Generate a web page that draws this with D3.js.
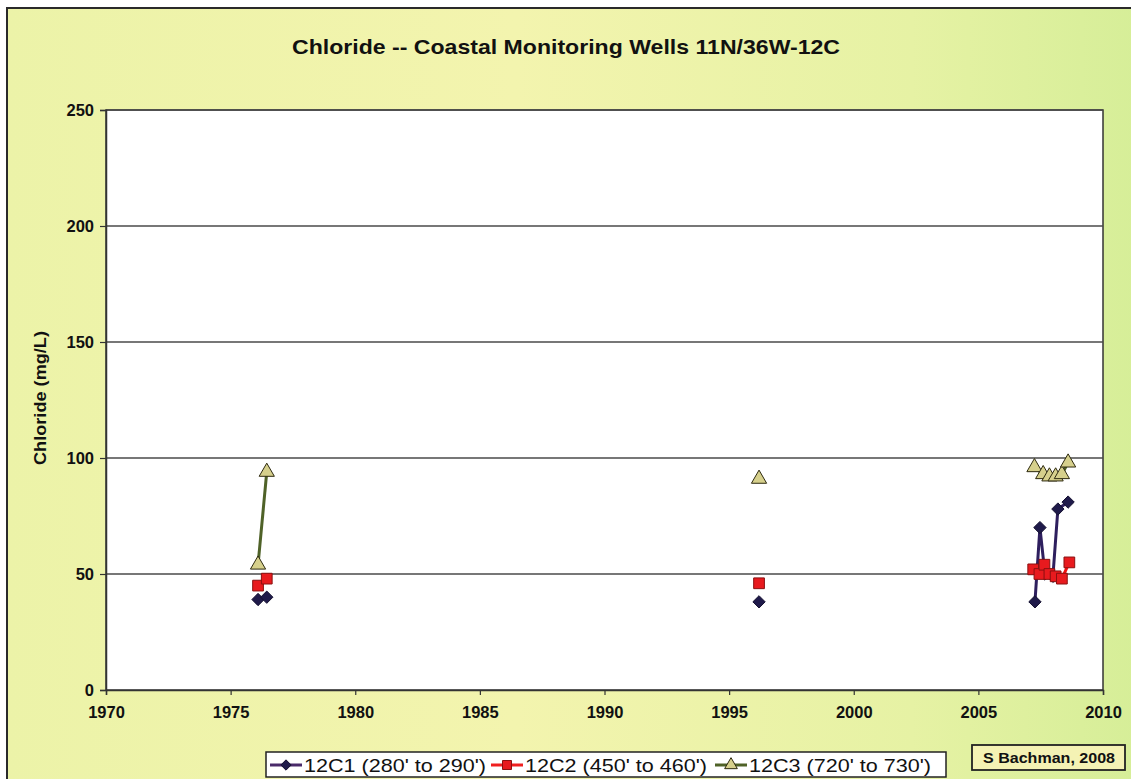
<!DOCTYPE html>
<html>
<head>
<meta charset="utf-8">
<script src="https://cdn.jsdelivr.net/npm/d3@7"></script>
<style>
  html, body { margin: 0; padding: 0; background: #fff; }
  svg { display: block; font-family: "Liberation Sans", Arial, sans-serif; }
</style>
</head>
<body>
<svg id="chart" width="1131" height="779"></svg>
<script>
// ---- data ----
const chartTitle = "Chloride -- Coastal Monitoring Wells 11N/36W-12C";
const yAxisTitle = "Chloride (mg/L)";
const credit = "S Bachman, 2008";
const seriesNames = ["12C1 (280' to 290')", "12C2 (450' to 460')", "12C3 (720' to 730')"];
const xTicks = [1970, 1975, 1980, 1985, 1990, 1995, 2000, 2005, 2010];
const yTicks = [0, 50, 100, 150, 200, 250];

const c1Years = [1976.1, 1976.45, 1996.2, 2007.27, 2007.47, 2007.67, 2007.99, 2008.19, 2008.6];
const c1Vals  = [39, 40, 38, 38, 70, 50, 49, 78, 81];
const c2Years = [1976.1, 1976.45, 1996.2, 2007.2, 2007.45, 2007.65, 2007.85, 2008.1, 2008.35, 2008.65];
const c2Vals  = [45, 48, 46, 52, 50, 54, 50, 49, 48, 55];
const c3Years = [1976.1, 1976.45, 1996.2, 2007.25, 2007.6, 2007.85, 2008.1, 2008.35, 2008.6];
const c3Vals  = [54, 94, 91, 96, 93, 92, 92, 93, 98];

// ---- layout / styles ----
const svg = d3.select("#chart");
const W = 1131, H = 779;
const plot = { left: 106, top: 110, right: 1103, bottom: 690 };

const diamond = { draw(ctx, size) { const r = Math.sqrt(size / 2); ctx.moveTo(0, -r); ctx.lineTo(r, 0); ctx.lineTo(0, r); ctx.lineTo(-r, 0); ctx.closePath(); } };

const styles = [
  { line: "#2E1F5E", fill: "#1F1A4A", stroke: "#141030", sym: diamond, size: 76, legendLine: "#4A2A6A" },
  { line: "#F01010", fill: "#E81A1E", stroke: "#8A1010", sym: d3.symbolSquare, size: 115, legendLine: "#F02020" },
  { line: "#4F6228", fill: "#D6D08C", stroke: "#2E2A10", sym: d3.symbolTriangle, size: 100, legendLine: "#4F6228" }
];

// background
const defs = svg.append("defs");
const grad = defs.append("linearGradient").attr("id", "bg").attr("x1", "0").attr("x2", "1").attr("y1", "0").attr("y2", "0");
grad.append("stop").attr("offset", "0").attr("stop-color", "#ECF3A8");
grad.append("stop").attr("offset", "0.45").attr("stop-color", "#F3F4AE");
grad.append("stop").attr("offset", "0.8").attr("stop-color", "#E6F2A4");
grad.append("stop").attr("offset", "1").attr("stop-color", "#D6EE98");
svg.append("rect").attr("width", W).attr("height", H).attr("fill", "#fff");
svg.append("rect").attr("x", 7).attr("y", 8).attr("width", W).attr("height", H).attr("fill", "url(#bg)");
svg.append("path").attr("d", `M7,${H} L7,8 L${W},8`).attr("fill", "none").attr("stroke", "#2a2a2a").attr("stroke-width", 2);

// scales
const x = d3.scaleLinear().domain([1970, 2010]).range([plot.left, plot.right]);
const y = d3.scaleLinear().domain([0, 250]).range([plot.bottom, plot.top]);

// plot area
svg.append("rect").attr("x", plot.left).attr("y", plot.top)
  .attr("width", plot.right - plot.left).attr("height", plot.bottom - plot.top)
  .attr("fill", "#fff").attr("stroke", "#333").attr("stroke-width", 1.5);

// gridlines
svg.append("g").selectAll("line").data(yTicks.filter(d => d > 0)).join("line")
  .attr("x1", plot.left).attr("x2", plot.right)
  .attr("y1", d => y(d)).attr("y2", d => y(d))
  .attr("stroke", "#4a4a4a").attr("stroke-width", 1.5);

// axes
const yAxis = d3.axisLeft(y).tickValues(yTicks).tickSize(6).tickPadding(6).tickFormat(d3.format("d"));
const gy = svg.append("g").attr("transform", `translate(${plot.left},0)`).call(yAxis);
const xAxis = d3.axisBottom(x).tickValues(xTicks).tickSize(5).tickPadding(11).tickFormat(d3.format("d"));
const gx = svg.append("g").attr("transform", `translate(0,${plot.bottom})`).call(xAxis);
[gx, gy].forEach(g => {
  g.select(".domain").attr("stroke", "#333").attr("stroke-width", 1.5);
  g.selectAll(".tick line").attr("stroke", "#333").attr("stroke-width", 1.2);
  g.selectAll(".tick text").attr("fill", "#111").attr("font-size", 16.5).attr("font-weight", "bold")
    .attr("font-family", "'Liberation Sans', Arial, sans-serif");
});

// series
const allYears = [c1Years, c2Years, c3Years];
const allVals = [c1Vals, c2Vals, c3Vals];
const data = allYears.map((ys, i) => ys.map((yr, j) => ({ yr, v: allVals[i][j] })));

const line = d3.line().x(d => x(d.yr)).y(d => y(d.v));
data.forEach((pts, i) => {
  // split where sampling gaps exceed a few years
  const groups = [];
  let cur = [];
  pts.forEach((p, j) => {
    if (j > 0 && p.yr - pts[j - 1].yr > 3) { groups.push(cur); cur = []; }
    cur.push(p);
  });
  groups.push(cur);
  const g = svg.append("g");
  groups.filter(gr => gr.length > 1).forEach(gr => {
    g.append("path").attr("d", line(gr)).attr("fill", "none")
      .attr("stroke", styles[i].line).attr("stroke-width", 3);
  });
});
data.forEach((pts, i) => {
  const st = styles[i];
  svg.append("g").selectAll("path").data(pts).join("path")
    .attr("transform", d => `translate(${x(d.yr)},${y(d.v)})`)
    .attr("d", d3.symbol().type(st.sym).size(st.size))
    .attr("fill", st.fill).attr("stroke", st.stroke).attr("stroke-width", 1);
});

// title
svg.append("text").attr("x", 566).attr("y", 54).attr("text-anchor", "middle")
  .attr("font-size", 21).attr("font-weight", "bold").attr("fill", "#111")
  .attr("textLength", 548).attr("lengthAdjust", "spacingAndGlyphs").text(chartTitle);

// y axis title
svg.append("text").attr("transform", `translate(46,${(plot.top + plot.bottom) / 2 - 2}) rotate(-90)`)
  .attr("text-anchor", "middle").attr("font-size", 17).attr("font-weight", "bold").attr("fill", "#111")
  .attr("textLength", 134).attr("lengthAdjust", "spacingAndGlyphs")
  .text(yAxisTitle);

// legend
const leg = svg.append("g");
leg.append("rect").attr("x", 266).attr("y", 752).attr("width", 680).attr("height", 25)
  .attr("fill", "#fff").attr("stroke", "#222").attr("stroke-width", 1.5);
const legendItemX = [270, 491, 715];
seriesNames.forEach((name, i) => {
  const st = styles[i];
  const cy = 765;
  const lx = legendItemX[i];
  leg.append("line").attr("x1", lx).attr("x2", lx + 32).attr("y1", cy).attr("y2", cy)
    .attr("stroke", st.legendLine).attr("stroke-width", 3);
  leg.append("path").attr("transform", `translate(${lx + 16},${cy})`)
    .attr("d", d3.symbol().type(st.sym).size(st.size * 0.7))
    .attr("fill", st.fill).attr("stroke", st.stroke).attr("stroke-width", 1);
  leg.append("text").attr("x", lx + 34).attr("y", cy + 7).attr("font-size", 19).attr("fill", "#111")
    .attr("textLength", 182).attr("lengthAdjust", "spacingAndGlyphs").text(name);
});

// credit box
svg.append("rect").attr("x", 972).attr("y", 745).attr("width", 153).attr("height", 25)
  .attr("fill", "#F4F2B4").attr("stroke", "#222").attr("stroke-width", 1.8);
svg.append("text").attr("x", 1049).attr("y", 763).attr("text-anchor", "middle")
  .attr("font-size", 15).attr("font-weight", "bold").attr("fill", "#111")
  .attr("textLength", 132).attr("lengthAdjust", "spacingAndGlyphs").text(credit);
</script>
</body>
</html>
